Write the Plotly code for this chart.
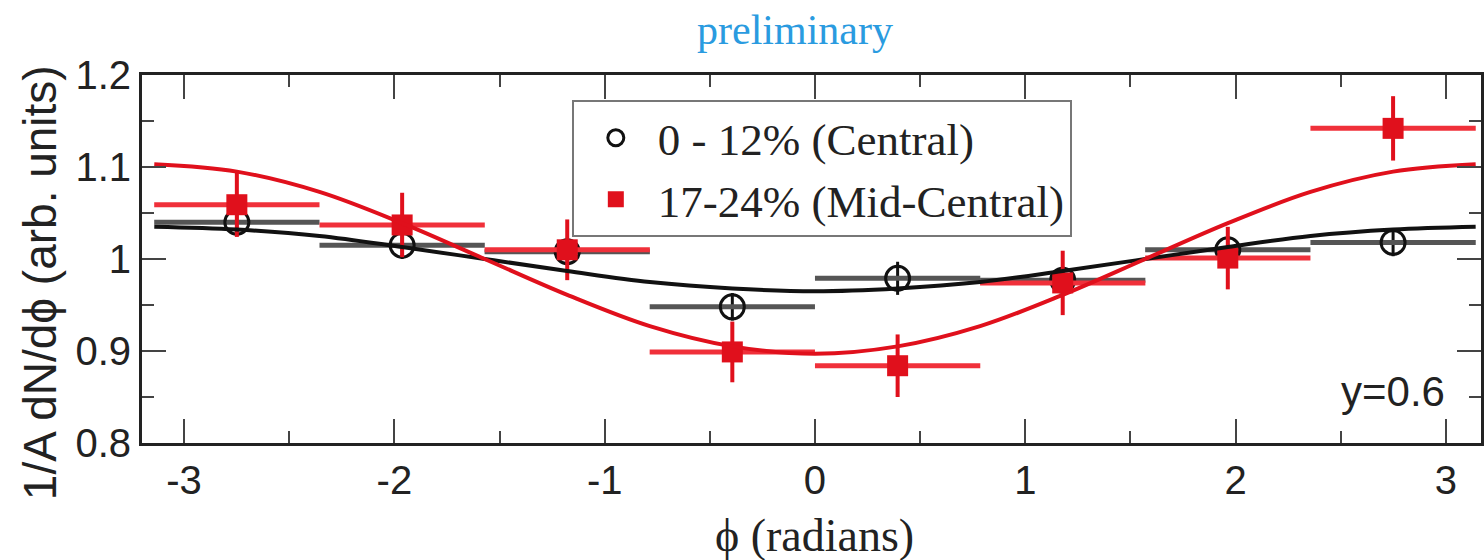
import plotly.graph_objects as go

# Bin centres in phi (radians) and half bin width
phi = [-2.749, -1.963, -1.178, -0.393, 0.393, 1.178, 1.963, 2.749]
half_bin = [0.393] * 8

# 0 - 12% (Central)
central = [1.040, 1.015, 1.008, 0.948, 0.979, 0.977, 1.010, 1.018]
central_err = [0.015, 0.015, 0.015, 0.015, 0.018, 0.015, 0.015, 0.015]

# 17-24% (Mid-Central)
midcentral = [1.059, 1.037, 1.010, 0.899, 0.884, 0.974, 1.001, 1.142]
midcentral_err = [0.035, 0.035, 0.033, 0.033, 0.034, 0.035, 0.034, 0.035]

# Fit curves sampled every pi/8
fit_phi = [-3.1416, -2.7489, -2.3562, -1.9635, -1.5708, -1.1781, -0.7854, -0.3927, 0.0,
           0.3927, 0.7854, 1.1781, 1.5708, 1.9635, 2.3562, 2.7489, 3.1416]
fit_central = [1.035, 1.032, 1.025, 1.013, 1.000, 0.987, 0.975, 0.968, 0.965,
               0.968, 0.975, 0.987, 1.000, 1.013, 1.025, 1.032, 1.035]
fit_midcentral = [1.103, 1.095, 1.073, 1.039, 1.000, 0.961, 0.927, 0.905, 0.897,
                  0.905, 0.927, 0.961, 1.000, 1.039, 1.073, 1.095, 1.103]

x_ticks = [-3, -2, -1, 0, 1, 2, 3]
x_ticktext = ["-3", "-2", "-1", "0", "1", "2", "3"]
y_ticks = [0.8, 0.9, 1.0, 1.1, 1.2]
y_ticktext = ["0.8", "0.9", "1", "1.1", "1.2"]

RED = "#e0101c"
SANS = "Liberation Sans, Arial, sans-serif"
SERIF = "Liberation Serif, Times New Roman, serif"

fig = go.Figure()

fig.add_trace(go.Scatter(
    x=phi, y=central, mode="markers", name="0 - 12% (Central)",
    marker=dict(symbol="circle-open", size=24, color="#111111", line=dict(width=3, color="#111111")),
    error_x=dict(type="data", array=half_bin, color="#555555", thickness=5, width=0),
    error_y=dict(type="data", array=central_err, color="#111111", thickness=3, width=0),
))

fig.add_trace(go.Scatter(
    x=phi, y=midcentral, mode="markers", name="17-24% (Mid-Central)",
    marker=dict(symbol="square", size=21, color=RED),
    error_x=dict(type="data", array=half_bin, color="#f0303a", thickness=5, width=0),
    error_y=dict(type="data", array=midcentral_err, color=RED, thickness=4, width=0),
))

fig.add_trace(go.Scatter(
    x=fit_phi, y=fit_central, mode="lines", showlegend=False,
    line=dict(color="#111111", width=4, shape="spline"),
))

fig.add_trace(go.Scatter(
    x=fit_phi, y=fit_midcentral, mode="lines", showlegend=False,
    line=dict(color=RED, width=4, shape="spline"),
))

axis_common = dict(
    showline=True, linecolor="#222222", linewidth=3, mirror="ticks",
    ticks="inside", tickcolor="#444444", tickwidth=2,
    showgrid=False, zeroline=False,
    tickfont=dict(family=SANS, size=40, color="#222222"),
)

fig.update_xaxes(
    range=[-3.2, 3.167], tickvals=x_ticks, ticktext=x_ticktext, ticklen=24,
    minor=dict(dtick=0.5, ticks="inside", ticklen=12, tickcolor="#444444", tickwidth=2),
    **axis_common,
)
fig.update_yaxes(
    range=[0.8, 1.2], tickvals=y_ticks, ticktext=y_ticktext, ticklen=24,
    minor=dict(dtick=0.05, ticks="inside", ticklen=12, tickcolor="#444444", tickwidth=2),
    **axis_common,
)

fig.update_layout(
    width=1484, height=560,
    margin=dict(l=142, r=0, t=75, b=117),
    paper_bgcolor="white", plot_bgcolor="white",
    legend=dict(
        x=0.321, y=0.932, xanchor="left", yanchor="top",
        bgcolor="white", bordercolor="#777777", borderwidth=2,
        font=dict(family=SERIF, size=45, color="#222222"),
        itemwidth=74,
    ),
    annotations=[
        dict(text="preliminary", xref="paper", yref="paper", x=0.488, y=1.122,
             xanchor="center", yanchor="middle", showarrow=False,
             font=dict(family=SERIF, size=42, color="#2a9be0")),
        dict(text="ϕ (radians)", xref="paper", yref="paper", x=0.502, y=-0.25,
             xanchor="center", yanchor="middle", showarrow=False,
             font=dict(family=SERIF, size=46, color="#222222")),
        dict(text="1/A dN/dϕ (arb. units)", xref="paper", yref="paper", x=-0.076, y=0.435,
             xanchor="center", yanchor="middle", textangle=-90, showarrow=False,
             font=dict(family=SANS, size=46, color="#222222")),
        dict(text="y=0.6", xref="paper", yref="paper", x=0.934, y=0.141,
             xanchor="center", yanchor="middle", showarrow=False,
             font=dict(family=SANS, size=42, color="#222222")),
    ],
)

fig.write_html("out.html")
